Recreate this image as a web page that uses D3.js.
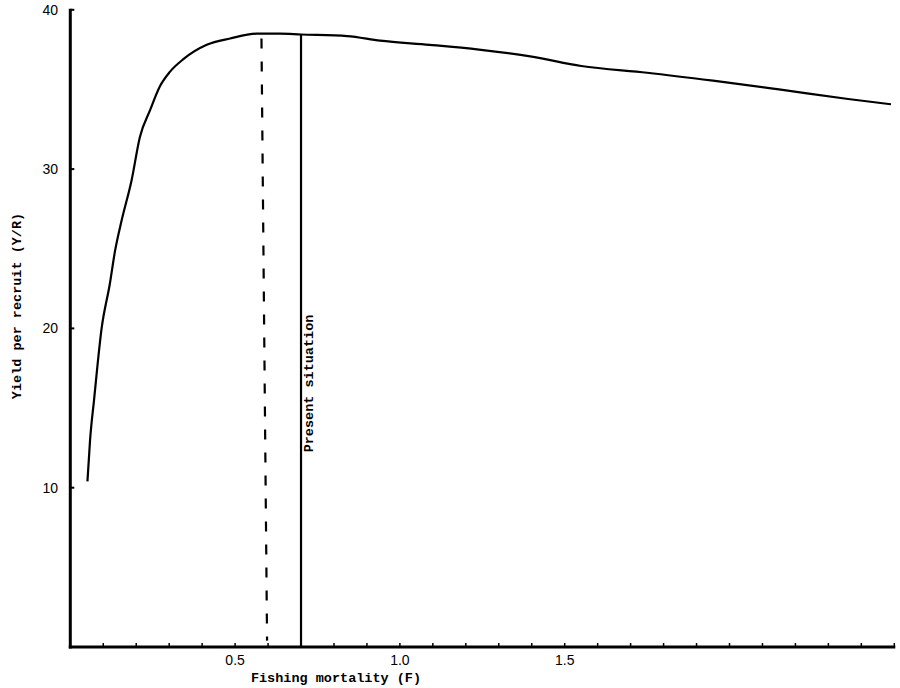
<!DOCTYPE html>
<html><head><meta charset="utf-8">
<script src="https://cdn.jsdelivr.net/npm/d3@7"></script>
<style>body{margin:0;background:#fff}</style>
</head><body>
<svg id="c" width="900" height="688"></svg>
<script>
const fishingMortality = [0.052, 0.06, 0.072, 0.095, 0.12, 0.136, 0.156, 0.186, 0.211, 0.242, 0.272, 0.302, 0.343, 0.414, 0.485, 0.565, 0.636, 0.70, 0.84, 0.94, 1.09, 1.24, 1.40, 1.55, 1.75, 1.95, 2.15, 2.36, 2.49];
const yieldPerRecruit  = [10.4, 13.0, 15.5, 20.0, 22.8, 24.9, 26.8, 29.3, 32.0, 33.7, 35.2, 36.1, 36.9, 37.8, 38.2, 38.5, 38.5, 38.45, 38.35, 38.06, 37.8, 37.5, 37.06, 36.47, 36.05, 35.55, 35.0, 34.4, 34.07];
const xMinorTicks = d3.range(1, 26).map(i => i / 10);
const xTickLabels = [0.5, 1.0, 1.5];
const yTicks = [10, 20, 30, 40];
const optimumLine = {F: [0.58, 0.597], Y: [38.2, 0.4]};
const presentF = 0.70;
const presentLabel = "Present situation";
const xTitle = "Fishing mortality (F)";
const yTitle = "Yield per recruit (Y/R)";

const svg = d3.select("#c");
const x = d3.scaleLinear().domain([0, 2.5]).range([70.3, 894.3]);
const y = d3.scaleLinear().domain([0, 40]).range([647, 9.8]);
const mono = "'Liberation Mono', 'DejaVu Sans Mono', monospace";
const sans = "'Liberation Sans', Arial, sans-serif";

// axes lines
svg.append("line").attr("x1", x(0)).attr("x2", x(0)).attr("y1", y(40)-1).attr("y2", y(0)+1.5)
  .attr("stroke", "#000").attr("stroke-width", 3);
svg.append("line").attr("x1", x(0)-1.5).attr("x2", x(2.5)+1).attr("y1", y(0)).attr("y2", y(0))
  .attr("stroke", "#000").attr("stroke-width", 3);

// x minor ticks (inward)
svg.selectAll(".xt").data(xMinorTicks).join("line")
  .attr("x1", d => x(d)).attr("x2", d => x(d))
  .attr("y1", y(0)).attr("y2", y(0) - 4)
  .attr("stroke", "#000").attr("stroke-width", 1.5);
svg.selectAll(".xl").data(xTickLabels).join("text")
  .attr("x", d => x(d)).attr("y", 665)
  .attr("text-anchor", "middle").attr("font-family", sans).attr("font-size", 14)
  .text(d => d.toFixed(1));

// y ticks (inward)
svg.selectAll(".yt").data(yTicks).join("line")
  .attr("x1", x(0)).attr("x2", x(0) + 4)
  .attr("y1", d => y(d)).attr("y2", d => y(d))
  .attr("stroke", "#000").attr("stroke-width", 2);
svg.selectAll(".yl").data(yTicks).join("text")
  .attr("x", 58).attr("y", d => y(d)).attr("dy", "0.35em")
  .attr("text-anchor", "end").attr("font-family", sans).attr("font-size", 14)
  .text(d => d);

// titles
svg.append("text").attr("x", 336).attr("y", 682).attr("text-anchor", "middle")
  .attr("font-family", mono).attr("font-weight", "bold").attr("font-size", 13.5).text(xTitle);
svg.append("text").attr("transform", "translate(21,306) rotate(-90)").attr("text-anchor", "middle")
  .attr("font-family", mono).attr("font-weight", "bold").attr("font-size", 13.5).text(yTitle);

// curve
const pts = fishingMortality.map((f, i) => [f, yieldPerRecruit[i]]);
svg.append("path").datum(pts)
  .attr("d", d3.line().x(d => x(d[0])).y(d => y(d[1])).curve(d3.curveMonotoneX))
  .attr("fill", "none").attr("stroke", "#000").attr("stroke-width", 2.2);

// optimum dashed line
svg.append("line")
  .attr("x1", x(optimumLine.F[0])).attr("y1", y(optimumLine.Y[0]))
  .attr("x2", x(optimumLine.F[1])).attr("y2", y(optimumLine.Y[1]))
  .attr("stroke", "#000").attr("stroke-width", 2.2).attr("stroke-dasharray", "10,13");

// present situation line
svg.append("line").attr("x1", x(presentF)).attr("x2", x(presentF))
  .attr("y1", y(38.45)).attr("y2", y(0))
  .attr("stroke", "#000").attr("stroke-width", 2.2);
svg.append("text").attr("transform", `translate(${x(presentF)+12},383.5) rotate(-90)`)
  .attr("text-anchor", "middle").attr("font-family", mono).attr("font-weight", "bold")
  .attr("font-size", 13.5).text(presentLabel);
</script>
</body></html>
